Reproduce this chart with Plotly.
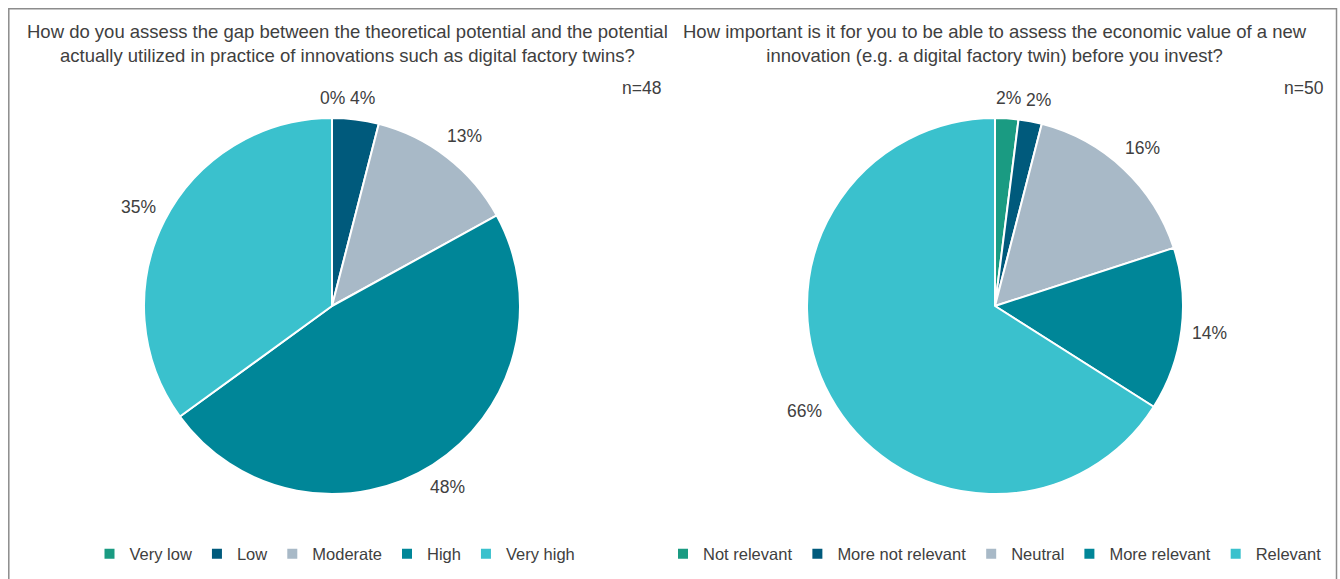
import math
import plotly.graph_objects as go

W, H = 1340, 579

# ---- data ----
labels1 = ["Very low", "Low", "Moderate", "High", "Very high"]
values1 = [0, 4, 13, 48, 35]
title1 = "How do you assess the gap between the theoretical potential and the potential<br>actually utilized in practice of innovations such as digital factory twins?"
n1 = "n=48"

labels2 = ["Not relevant", "More not relevant", "Neutral", "More relevant", "Relevant"]
values2 = [2, 2, 16, 14, 66]
title2 = "How important is it for you to be able to assess the economic value of a new<br>innovation (e.g. a digital factory twin) before you invest?"
n2 = "n=50"

colors = ["#1A9B82", "#005A7C", "#A8B9C7", "#008698", "#3AC1CD"]
text_color = "#404040"
FONT = "Liberation Sans, Arial, sans-serif"

# ---- layout geometry (pixels) ----
R = 188
centers = [(332, 306), (995, 306)]


def px_x(x):
    return x / W


def px_y(y):
    return 1 - y / H


fig = go.Figure()

for i, (labs, vals) in enumerate([(labels1, values1), (labels2, values2)]):
    cx, cy = centers[i]
    fig.add_trace(go.Pie(
        labels=labs, values=vals, sort=False, direction="clockwise", rotation=0,
        marker=dict(colors=colors, line=dict(color="white", width=2)),
        textinfo="none", hoverinfo="label+percent",
        domain=dict(x=[px_x(cx - R), px_x(cx + R)], y=[px_y(cy + R), px_y(cy - R)]),
        legend="legend" if i == 0 else "legend2",
        showlegend=True,
    ))

annotations = []
# slice labels computed from data
for i, vals in enumerate([values1, values2]):
    cx, cy = centers[i]
    total = sum(vals)
    cum = 0
    prev = None
    for v in vals:
        mid = (cum + v / 2) / total * 2 * math.pi
        cum += v
        txt = f"{v}%"
        w = len(txt) * 10
        s, c = math.sin(mid), math.cos(mid)
        rr = R + 12 + abs(s) * w / 2 + abs(c) * 8
        x = cx + rr * s
        y = cy - rr * c
        # avoid overlap with the previous label near the top
        if prev is not None and abs(y - prev[1]) < 16:
            x = max(x, prev[0] + prev[2] / 2 + w / 2 + 10)
        prev = (x, y, w)
        annotations.append(dict(
            x=px_x(x), y=px_y(y), xref="paper", yref="paper", text=txt,
            showarrow=False, xanchor="center", yanchor="middle",
            font=dict(size=17.5, color=text_color, family=FONT)))

# titles
for tx, t in [(347, title1), (995, title2)]:
    annotations.append(dict(
        x=px_x(tx), y=px_y(44), xref="paper", yref="paper", text=t,
        showarrow=False, xanchor="center", yanchor="middle", align="center",
        font=dict(size=18.5, color=text_color, family=FONT)))

# n labels
for tx, t in [(663, n1), (1326, n2)]:
    annotations.append(dict(
        x=px_x(tx), y=px_y(88), xref="paper", yref="paper", text=t,
        showarrow=False, xanchor="right", yanchor="middle",
        font=dict(size=17.5, color=text_color, family=FONT)))

legend_common = dict(orientation="h", xanchor="center", yanchor="middle",
                     font=dict(size=16.5, color=text_color, family=FONT),
                     itemwidth=30, bgcolor="rgba(0,0,0,0)")

fig.update_layout(
    width=W, height=H,
    margin=dict(l=0, r=0, t=0, b=0),
    paper_bgcolor="white",
    font=dict(family=FONT, color=text_color),
    annotations=annotations,
    legend=dict(x=px_x(335), y=px_y(554), **legend_common),
    legend2=dict(x=px_x(995), y=px_y(554), **legend_common),
    shapes=[dict(type="rect", xref="paper", yref="paper",
                 x0=px_x(8.8), x1=px_x(1336.5), y0=px_y(640), y1=px_y(8.8),
                 line=dict(color="#8C8C8C", width=1.5))],
)

fig.write_html(
    "out.html",
    config={"displayModeBar": False},
    post_script="document.body.style.margin='0';document.body.style.overflow='hidden';",
)
